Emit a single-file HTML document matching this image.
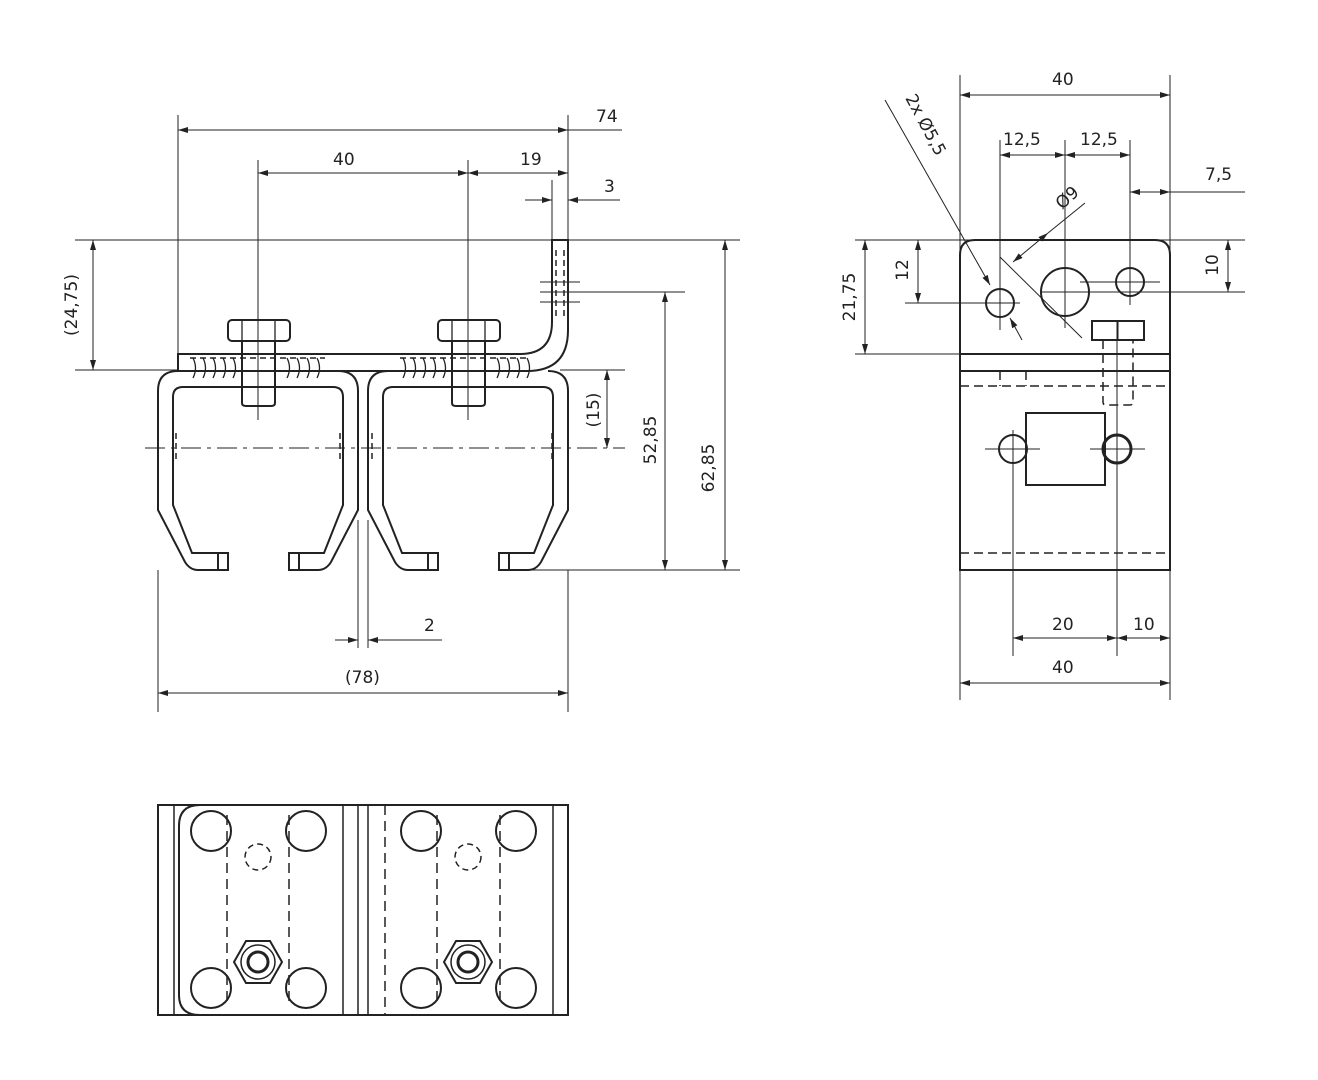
<!DOCTYPE html>
<html><head><meta charset="utf-8"><style>
html,body{margin:0;padding:0;background:#fff}
svg{display:block}
text{font-family:"DejaVu Sans","Liberation Sans",sans-serif;font-size:17px;fill:#222}
</style></head><body>
<svg width="1318" height="1080" viewBox="0 0 1318 1080" xmlns="http://www.w3.org/2000/svg">
<defs>
<marker id="a" viewBox="0 0 10 6" refX="10" refY="3" markerWidth="10" markerHeight="6" orient="auto-start-reverse" markerUnits="userSpaceOnUse"><path d="M0,0 L10,3 L0,6z" fill="#222"/></marker>
<path id="th" d="M0,358 q5,10 0,20" stroke="#222" stroke-width="1.3" fill="none"/>
</defs>
<g stroke="#222" stroke-width="1" fill="none">
<line x1="75" y1="240" x2="740" y2="240"/>
<line x1="75" y1="370" x2="178" y2="370"/>
<line x1="510" y1="570" x2="740" y2="570"/>
<line x1="580" y1="292" x2="685" y2="292"/>
<line x1="560" y1="370" x2="625" y2="370"/>
<line x1="178" y1="115" x2="178" y2="355"/>
<line x1="568" y1="115" x2="568" y2="240"/>
<line x1="552" y1="180" x2="552" y2="240"/>
<line x1="258" y1="160" x2="258" y2="415"/>
<line x1="468" y1="160" x2="468" y2="415"/>
<line x1="158" y1="570" x2="158" y2="712"/>
<line x1="568" y1="570" x2="568" y2="712"/>
<line x1="358" y1="520" x2="358" y2="648"/>
<line x1="368" y1="520" x2="368" y2="648"/>
<line x1="178" y1="130" x2="568" y2="130" marker-start="url(#a)" marker-end="url(#a)"/>
<line x1="568" y1="130" x2="622" y2="130"/>
<line x1="258" y1="173" x2="468" y2="173" marker-start="url(#a)" marker-end="url(#a)"/>
<line x1="468" y1="173" x2="568" y2="173" marker-start="url(#a)" marker-end="url(#a)"/>
<line x1="525" y1="200" x2="552" y2="200" marker-end="url(#a)"/>
<line x1="620" y1="200" x2="568" y2="200" marker-end="url(#a)"/>
<line x1="93" y1="240" x2="93" y2="370" marker-start="url(#a)" marker-end="url(#a)"/>
<line x1="607" y1="370" x2="607" y2="448" marker-start="url(#a)" marker-end="url(#a)"/>
<line x1="665" y1="292" x2="665" y2="570" marker-start="url(#a)" marker-end="url(#a)"/>
<line x1="725" y1="240" x2="725" y2="570" marker-start="url(#a)" marker-end="url(#a)"/>
<line x1="335" y1="640" x2="358" y2="640" marker-end="url(#a)"/>
<line x1="442" y1="640" x2="368" y2="640" marker-end="url(#a)"/>
<line x1="158" y1="693" x2="568" y2="693" marker-start="url(#a)" marker-end="url(#a)"/>
<line x1="145" y1="448" x2="625" y2="448" stroke-dasharray="20,6,4,6"/>
<line x1="540" y1="292" x2="590" y2="292"/>
</g>
<g stroke="#222" stroke-width="2" fill="none">
<path d="M178,354 L520,354 Q552,354 552,322 L552,240 L568,240 L568,330 Q568,371 527,371 L178,371 Z"/>
<g id="ch">
<path d="M178,371 Q158,371 158,391 L158,510 L185,562 Q190,570 198,570 L228,570 L228,553 L192,553 L173,505 L173,397 Q173,387 183,387 L333,387 Q343,387 343,397 L343,505 L324,553 L289,553 L289,570 L318,570 Q326,570 331,562 L358,510 L358,391 Q358,371 338,371"/>
<line x1="218" y1="553" x2="218" y2="570"/>
<line x1="299" y1="553" x2="299" y2="570"/>
</g>
<use href="#ch" transform="translate(210,0)"/>
<g id="bo">
<rect x="228" y="320" width="62" height="21" rx="4"/>
<line x1="242" y1="320" x2="242" y2="341" stroke-width="1.3"/>
<line x1="275" y1="320" x2="275" y2="341" stroke-width="1.3"/>
<path d="M242,341 L242,403 Q242,406 246,406 L271,406 Q275,406 275,403 L275,341"/>
<line x1="258" y1="300" x2="258" y2="420" stroke-width="1"/>
</g>
<use href="#bo" transform="translate(210,0)"/>
</g>
<g>
<use href="#th" x="193"/><use href="#th" x="203"/><use href="#th" x="213"/><use href="#th" x="223"/><use href="#th" x="233"/>
<use href="#th" x="287"/><use href="#th" x="297"/><use href="#th" x="307"/><use href="#th" x="317"/>
<use href="#th" x="403"/><use href="#th" x="413"/><use href="#th" x="423"/><use href="#th" x="433"/><use href="#th" x="443"/>
<use href="#th" x="497"/><use href="#th" x="507"/><use href="#th" x="517"/><use href="#th" x="527"/>
</g>
<g stroke="#222" stroke-width="1.5" fill="none" stroke-dasharray="6,4">
<line x1="190" y1="358" x2="325" y2="358"/>
<line x1="400" y1="358" x2="530" y2="358"/>
<line x1="176" y1="433" x2="176" y2="463"/>
<line x1="340" y1="433" x2="340" y2="463"/>
<line x1="372" y1="433" x2="372" y2="463"/>
<line x1="552" y1="433" x2="552" y2="463"/>
<line x1="556" y1="250" x2="556" y2="318"/>
<line x1="564" y1="250" x2="564" y2="318"/>
</g>
<g stroke="#222" stroke-width="1" fill="none">
<line x1="540" y1="282" x2="580" y2="282"/><line x1="540" y1="302" x2="580" y2="302"/>
</g>
<text x="596" y="122">74</text>
<text x="333" y="165">40</text>
<text x="520" y="165">19</text>
<text x="604" y="192">3</text>
<text x="424" y="631">2</text>
<text x="345" y="683">(78)</text>
<text transform="translate(77,305) rotate(-90)" text-anchor="middle">(24,75)</text>
<text transform="translate(599,410) rotate(-90)" text-anchor="middle">(15)</text>
<text transform="translate(656,440) rotate(-90)" text-anchor="middle">52,85</text>
<text transform="translate(714,468) rotate(-90)" text-anchor="middle">62,85</text>

<g stroke="#222" stroke-width="1" fill="none">
<line x1="855" y1="240" x2="1245" y2="240"/>
<line x1="855" y1="354" x2="960" y2="354"/>
<line x1="905" y1="303" x2="1020" y2="303"/>
<line x1="1040" y1="292" x2="1245" y2="292"/>
<line x1="960" y1="75" x2="960" y2="700"/>
<line x1="1170" y1="75" x2="1170" y2="700"/>
<line x1="1000" y1="140" x2="1000" y2="330"/>
<line x1="1065" y1="140" x2="1065" y2="328"/>
<line x1="1130" y1="140" x2="1130" y2="305"/>
<line x1="1013" y1="430" x2="1013" y2="656"/>
<line x1="1117" y1="320" x2="1117" y2="656"/>
<line x1="960" y1="95" x2="1170" y2="95" marker-start="url(#a)" marker-end="url(#a)"/>
<line x1="1000" y1="155" x2="1065" y2="155" marker-start="url(#a)" marker-end="url(#a)"/>
<line x1="1065" y1="155" x2="1130" y2="155" marker-start="url(#a)" marker-end="url(#a)"/>
<line x1="1130" y1="192" x2="1170" y2="192" marker-start="url(#a)" marker-end="url(#a)"/>
<line x1="1170" y1="192" x2="1245" y2="192"/>
<line x1="865" y1="240" x2="865" y2="354" marker-start="url(#a)" marker-end="url(#a)"/>
<line x1="918" y1="240" x2="918" y2="303" marker-start="url(#a)" marker-end="url(#a)"/>
<line x1="1228" y1="240" x2="1228" y2="292" marker-start="url(#a)" marker-end="url(#a)"/>
<line x1="1013" y1="638" x2="1117" y2="638" marker-start="url(#a)" marker-end="url(#a)"/>
<line x1="1117" y1="638" x2="1170" y2="638" marker-start="url(#a)" marker-end="url(#a)"/>
<line x1="960" y1="683" x2="1170" y2="683" marker-start="url(#a)" marker-end="url(#a)"/>
<line x1="885" y1="100" x2="990" y2="285" marker-end="url(#a)"/>
<line x1="1022" y1="340" x2="1010" y2="318" marker-end="url(#a)"/>
<line x1="1000" y1="257" x2="1082" y2="338"/>
<line x1="1013" y1="262" x2="1048" y2="233" marker-start="url(#a)" marker-end="url(#a)"/>
<line x1="1048" y1="233" x2="1085" y2="203"/>
<line x1="1080" y1="282" x2="1160" y2="282"/>
<line x1="985" y1="449" x2="1040" y2="449"/>
<line x1="1090" y1="449" x2="1145" y2="449"/>
</g>
<g stroke="#222" stroke-width="2" fill="none">
<path d="M960,570 L960,255 Q960,240 975,240 L1155,240 Q1170,240 1170,255 L1170,570 Z"/>
<line x1="960" y1="354" x2="1170" y2="354"/>
<line x1="960" y1="371" x2="1170" y2="371"/>
<circle cx="1000" cy="303" r="14"/>
<circle cx="1065" cy="292" r="24"/>
<circle cx="1130" cy="282" r="14"/>
<rect x="1092" y="321" width="52" height="19"/>
<line x1="1118" y1="321" x2="1118" y2="340" stroke-width="1"/>
<rect x="1026" y="413" width="79" height="72"/>
<circle cx="1013" cy="449" r="14"/>
<circle cx="1117" cy="449" r="14" stroke-width="3"/>
</g>
<g stroke="#222" stroke-width="1.5" fill="none" stroke-dasharray="9,5">
<line x1="960" y1="386" x2="1170" y2="386"/>
<line x1="960" y1="553" x2="1170" y2="553"/>
<path d="M1103,340 L1103,402 Q1103,405 1106,405 L1130,405 Q1133,405 1133,402 L1133,340"/>
<line x1="1000" y1="371" x2="1000" y2="386"/>
<line x1="1026" y1="371" x2="1026" y2="386"/>
</g>
<text x="1052" y="85">40</text>
<text x="1003" y="145">12,5</text>
<text x="1080" y="145">12,5</text>
<text x="1205" y="180">7,5</text>
<text x="1052" y="630">20</text>
<text x="1133" y="630">10</text>
<text x="1052" y="673">40</text>
<text transform="translate(855,297) rotate(-90)" text-anchor="middle">21,75</text>
<text transform="translate(908,270) rotate(-90)" text-anchor="middle">12</text>
<text transform="translate(1218,265) rotate(-90)" text-anchor="middle">10</text>
<text transform="translate(1062,210) rotate(-42)">Ø9</text>
<text transform="translate(905,98) rotate(62)">2x Ø5,5</text>

<g stroke="#222" stroke-width="2" fill="none">
<rect x="158" y="805" width="410" height="210"/>
<path d="M200,805 Q179,805 179,826 L179,995 Q179,1015 200,1015"/>
<line x1="174" y1="805" x2="174" y2="1015" stroke-width="1.5"/>
<line x1="343" y1="805" x2="343" y2="1015" stroke-width="1.5"/>
<line x1="358" y1="805" x2="358" y2="1015" stroke-width="1.5"/>
<line x1="368" y1="805" x2="368" y2="1015" stroke-width="1.5"/>
<line x1="553" y1="805" x2="553" y2="1015" stroke-width="1.5"/>
<circle cx="211" cy="831" r="20"/><circle cx="306" cy="831" r="20"/>
<circle cx="211" cy="988" r="20"/><circle cx="306" cy="988" r="20"/>
<circle cx="421" cy="831" r="20"/><circle cx="516" cy="831" r="20"/>
<circle cx="421" cy="988" r="20"/><circle cx="516" cy="988" r="20"/>
<g id="nut"><polygon points="234,962 246,941 270,941 282,962 270,983 246,983"/>
<circle cx="258" cy="962" r="17" stroke-width="1.5"/><circle cx="258" cy="962" r="10" stroke-width="3"/></g>
<use href="#nut" transform="translate(210,0)"/>
</g>
<g stroke="#222" stroke-width="1.5" fill="none" stroke-dasharray="10,6">
<line x1="227" y1="815" x2="227" y2="1005"/>
<line x1="289" y1="815" x2="289" y2="1005"/>
<line x1="437" y1="815" x2="437" y2="1005"/>
<line x1="500" y1="815" x2="500" y2="1005"/>
<line x1="385" y1="805" x2="385" y2="1015"/>
<circle cx="258" cy="857" r="13" stroke-dasharray="6,4"/>
<circle cx="468" cy="857" r="13" stroke-dasharray="6,4"/>
</g>
</svg>
</body></html>
